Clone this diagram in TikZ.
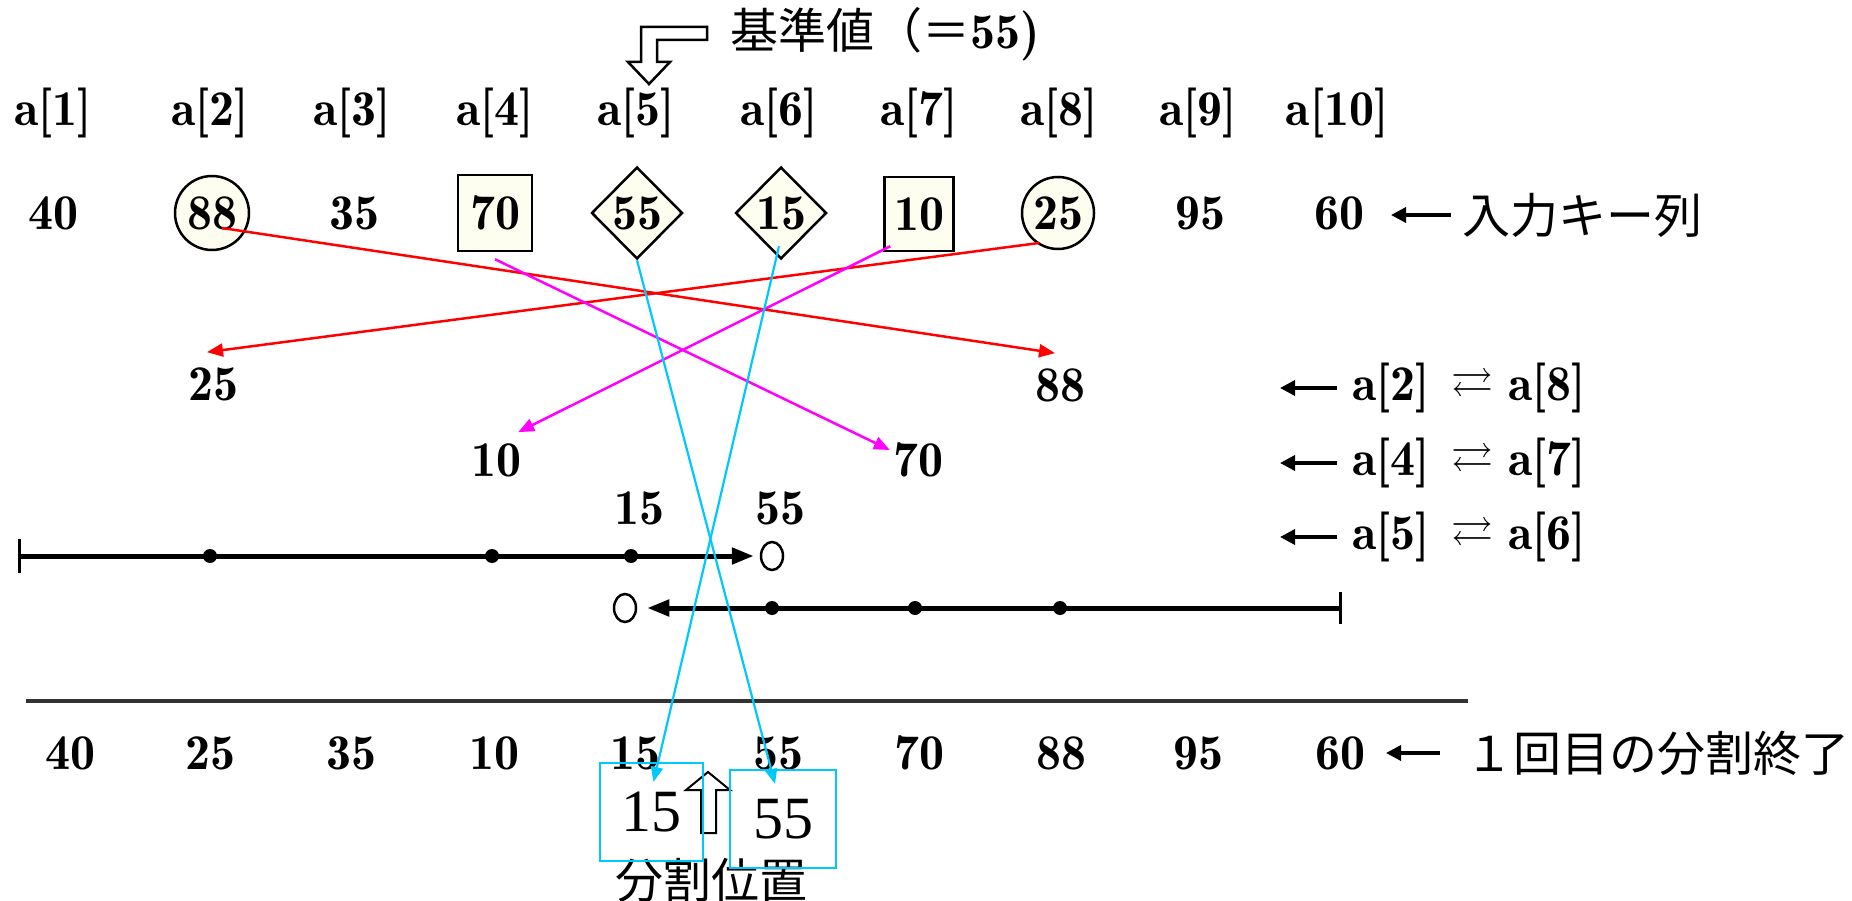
\documentclass[tikz,border=0pt]{standalone}
\usepackage{fontspec}
\usepackage{amssymb}
\usetikzlibrary{shapes.geometric,arrows.meta,calc}
\newfontfamily\cjk{Noto Sans CJK JP}
\newfontfamily\tms{Liberation Serif}
\definecolor{cream}{RGB}{253,253,240}
\definecolor{myred}{RGB}{255,0,0}
\definecolor{mymag}{RGB}{255,0,255}
\definecolor{mycyan}{RGB}{0,200,250}
\newcommand{\swapsym}{\raisebox{4.5pt}{\fontsize{42}{42}\selectfont$\rightleftarrows$}}
\begin{document}
\begin{tikzpicture}[x=1pt,y=-1pt,
  num/.style={inner sep=0pt, font=\fontseries{b}\fontsize{50}{60}\selectfont},
  jp/.style={inner sep=0pt, font=\cjk\fontsize{48}{56}\selectfont},
  keyshape/.style={num, draw, line width=2.5pt, fill=cream},
  redarr/.style={draw=myred, line width=2.5pt, -{Triangle[length=16pt,width=13pt]}},
  magarr/.style={draw=mymag, line width=2.5pt, -{Triangle[length=16pt,width=13pt]}},
  cyanarr/.style={draw=mycyan, line width=2.2pt, -{Triangle[length=15pt,width=12pt]}},
  cbox/.style={draw=mycyan, line width=2.2pt, inner sep=0pt, font=\tms\fontsize{60}{60}\selectfont},
  leftarr/.style={line width=3.5pt, -{Triangle[length=15pt,width=15pt]}},
  numline/.style={line width=5pt},
  dotnode/.style={circle, fill=black, inner sep=0pt, minimum size=14pt},
  opencirc/.style={ellipse, draw, line width=2.5pt, fill=white, inner sep=0pt, minimum width=22pt, minimum height=28pt},
  swaptext/.style={num, anchor=west}]
\useasboundingbox (0,0) rectangle (1852,901);
\fill[white] (0,0) rectangle (1852,901);

% pivot marker
\draw[line width=2.5pt, fill=white] (707,27) -- (641,27) -- (641,62) -- (628,62) -- (649,84)
  -- (670,62) -- (657,62) -- (657,40) -- (707,40) -- cycle;
\node[jp, anchor=west] (kijun) at (730,34) {基準値（＝{\fontfamily{lmr}\fontseries{b}\fontsize{50}{60}\selectfont 55)}};

% index labels
\foreach \i/\x in {1/53,2/210,3/352,4/495,5/636,6/779,7/919,8/1059,9/1198,10/1337}
  \node[num] (lab\i) at (\x,113) {a[\i]};

% input keys
\node[num] (v1) at (53,213) {40};
\node[keyshape, circle, minimum size=74pt] (v2) at (212,213) {88};
\node[num] (v3) at (354,213) {35};
\node[keyshape, rectangle, minimum width=74pt, minimum height=76pt] (v4) at (495,213) {70};
\node[keyshape, diamond, minimum width=91pt, minimum height=92pt] (v5) at (637,213) {55};
\node[keyshape, diamond, minimum width=91pt, minimum height=92pt] (v6) at (781,213) {15};
\node[keyshape, rectangle, minimum width=69pt, minimum height=74pt] (v7) at (919,214) {10};
\node[keyshape, circle, minimum size=72pt] (v8) at (1058,213) {25};
\node[num] (v9) at (1200,213) {95};
\node[num] (v10) at (1339,213) {60};
\node[jp, anchor=west] (inkey) at (1462,215) {入力キー列};
\draw[leftarr] ([xshift=-11pt]inkey.west) -- ++(-60,0);

% swapped values
\node[num] (s25) at (213,384) {25};
\node[num] (s88) at (1060,385) {88};
\node[num] (s10) at (496,460) {10};
\node[num] (s70) at (918,460) {70};
\node[num] (s15) at (639,508) {15};
\node[num] (s55) at (780,508) {55};

% swap descriptions
\node[swaptext] (sw1) at (1352,388) {a[2]\hspace{22pt}\swapsym\hspace{15pt}a[8]};
\node[swaptext] (sw2) at (1352,463) {a[4]\hspace{22pt}\swapsym\hspace{15pt}a[7]};
\node[swaptext] (sw3) at (1352,537) {a[5]\hspace{22pt}\swapsym\hspace{15pt}a[6]};
\foreach \s in {sw1,sw2,sw3}
  \draw[leftarr] ([xshift=-15pt]\s.west) -- ++(-57,0);

% number line 1 (left to right)
\coordinate (l1s) at (19,556);
\node[opencirc] (o1) at (772,556) {};
\draw[numline, -{Triangle[length=22pt,width=16pt]}, shorten >=6pt] (l1s) -- (o1.west);
\draw[line width=3pt] ([yshift=17pt]l1s) -- ([yshift=-17pt]l1s);
\foreach \n/\x in {a/210,b/492,c/631}
  \node[dotnode] (d1\n) at (\x,556) {};

% number line 2 (right to left)
\coordinate (l2e) at (1340,608);
\node[opencirc] (o2) at (625,608) {};
\draw[numline, -{Triangle[length=22pt,width=16pt]}, shorten >=10pt] (l2e) -- (o2.east);
\draw[line width=3pt] ([yshift=16pt]l2e) -- ([yshift=-16pt]l2e);
\foreach \n/\x in {a/772,b/915,c/1060}
  \node[dotnode] (d2\n) at (\x,608) {};

% separator
\draw[line width=4pt, black!80] (26,701) -- (1468,701);

% result row
\node[num] (r1) at (70,753) {40};
\node[num] (r2) at (210,753) {25};
\node[num] (r3) at (351,753) {35};
\node[num] (r4) at (494,753) {10};
\node[num] (r5) at (635,753) {15};
\node[num] (r6) at (778,753) {55};
\node[num] (r7) at (919,753) {70};
\node[num] (r8) at (1061,753) {88};
\node[num] (r9) at (1198,753) {95};
\node[num] (r10) at (1340,753) {60};
\node[jp, anchor=west] (done) at (1465,753) {１回目の分割終了};
\draw[leftarr] ([xshift=-25pt]done.west) -- ++(-54,0);

% split position marker
\draw[line width=2pt, fill=white] (708,772) -- (730,790) -- (716,790) -- (716,833) -- (701,833)
  -- (701,790) -- (686,790) -- cycle;
\node[jp] (pos) at (711,880) {分割位置};

% cyan boxes
\node[cbox, minimum width=103pt, minimum height=98pt] (b15) at (651.5,812) {15};
\node[cbox, minimum width=106pt, minimum height=98pt] (b55) at (783,819) {55};

% swap arrows
\draw[redarr] ($(v2.center)+(10,15)$) -- ($(s88.north)+(-5,-15)$);
\draw[redarr] ($(v8.center)+(-19,30)$) -- ($(s25.north)+(-6,-15)$);
\draw[magarr] ($(v4.south)+(0,7)$) -- ($(s70.west)+(-3,-10)$);
\draw[magarr] ($(v7.south west)+(7,-6)$) -- ($(s10.north east)+(-3,-11)$);
\draw[cyanarr] (v5.south) -- ($(b55.north)+(-8,15)$);
\draw[cyanarr] ($(v6.south)+(-2,-14)$) -- ($(b15.north)+(2,20)$);
\end{tikzpicture}
\end{document}
